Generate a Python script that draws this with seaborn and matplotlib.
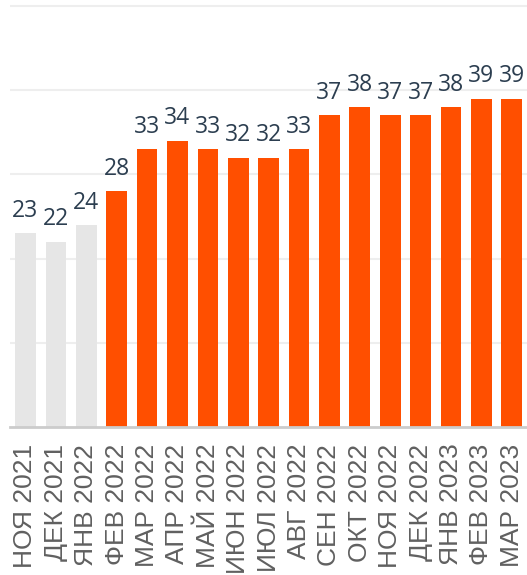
import seaborn as sns
import matplotlib.pyplot as plt
import pandas as pd

months = ['НОЯ 2021', 'ДЕК 2021', 'ЯНВ 2022', 'ФЕВ 2022', 'МАР 2022', 'АПР 2022',
          'МАЙ 2022', 'ИЮН 2022', 'ИЮЛ 2022', 'АВГ 2022', 'СЕН 2022', 'ОКТ 2022',
          'НОЯ 2022', 'ДЕК 2022', 'ЯНВ 2023', 'ФЕВ 2023', 'МАР 2023']
values = [23, 22, 24, 28, 33, 34, 33, 32, 32, 33, 37, 38, 37, 37, 38, 39, 39]
period = ['before', 'before', 'before', 'after', 'after', 'after', 'after', 'after',
          'after', 'after', 'after', 'after', 'after', 'after', 'after', 'after', 'after']
colors = {'before': '#e6e6e6', 'after': '#ff4f00'}

if __name__ == "__main__":
    sns.set_style('white')
    plt.rcParams['font.family'] = ['Open Sans', 'DejaVu Sans']

    df = pd.DataFrame({'month': months, 'value': values, 'period': period})

    fig = plt.figure(figsize=(5.27, 5.75), dpi=100)
    ax = fig.add_axes([10.3 / 527, 1 - 427 / 575, 1 - 10.3 / 527, 425.2 / 575])

    sns.barplot(data=df, x='month', y='value', hue='period', palette=colors,
                dodge=False, width=0.68, legend=False, linewidth=0,
                saturation=1, ax=ax)

    for c in ax.containers:
        ax.bar_label(c, padding=7.5, fontsize=16.5, color='#2c3e50')

    ax.set_xlim(-0.5, len(months) - 0.5)
    ax.set_ylim(0, 50.5)
    ax.set_yticks([10, 20, 30, 40, 50])
    ax.set_yticklabels([])
    ax.yaxis.grid(True, color='#eeeeee', linewidth=1.5)
    ax.set_axisbelow(True)
    ax.set_xlabel('')
    ax.set_ylabel('')
    ax.tick_params(axis='x', length=0, pad=12, labelsize=19, labelcolor='#606060',
                   labelrotation=90)
    for lbl in ax.get_xticklabels():
        lbl.set_family(['Liberation Sans', 'DejaVu Sans'])
    ax.tick_params(axis='y', length=0)
    for s in ['top', 'left', 'right']:
        ax.spines[s].set_visible(False)
    ax.spines['bottom'].set_color('#cccccc')
    ax.spines['bottom'].set_linewidth(2)

    plt.savefig('out.png', dpi=100)
